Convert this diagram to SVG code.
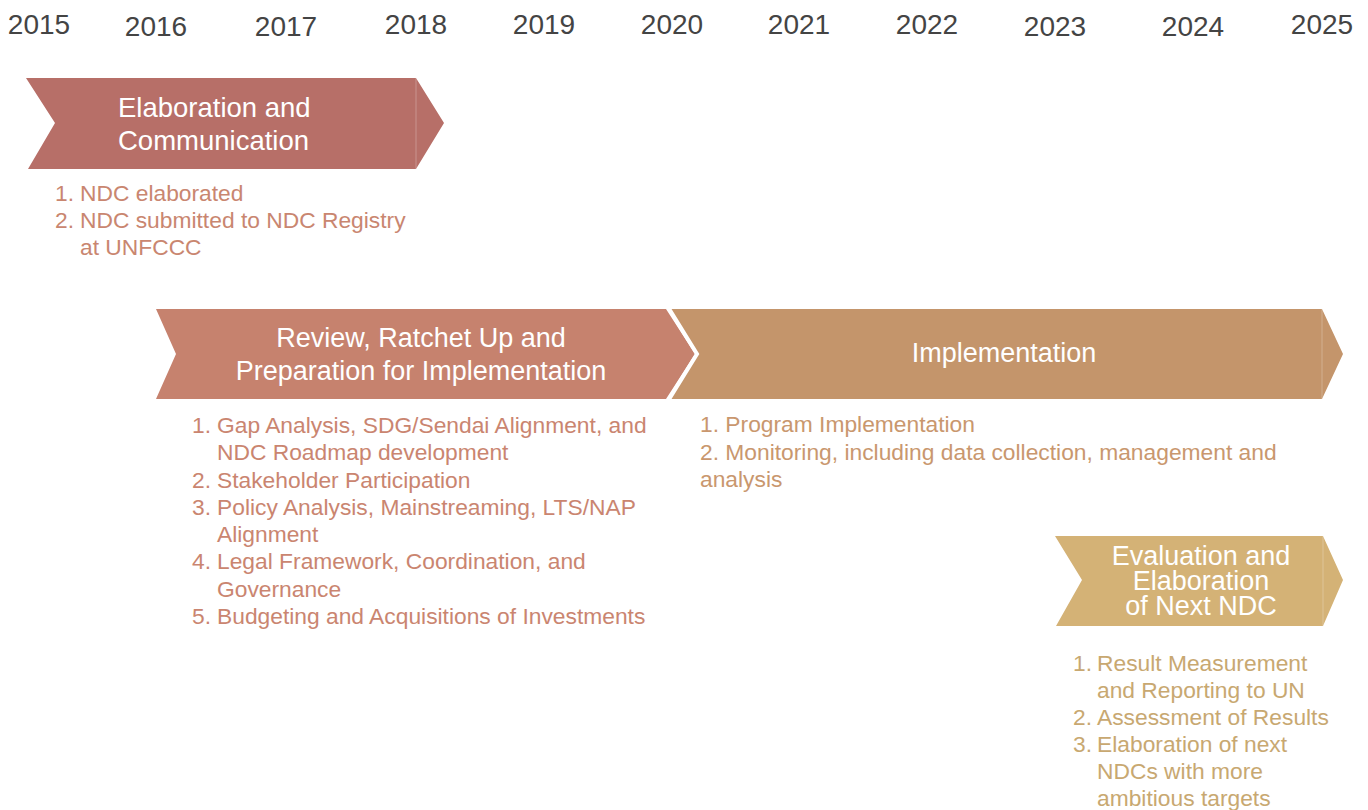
<svg xmlns="http://www.w3.org/2000/svg" width="1368" height="810" viewBox="0 0 1368 810">
<style>
text{font-family:"Liberation Sans",Arial,sans-serif}
.yr{font-size:28px;fill:#444444;text-anchor:middle}
.ttl{font-size:27px;fill:#ffffff}
.mid{text-anchor:middle}
.li{font-size:22.8px}
.c1{fill:#C98670}
.c2{fill:#CA8570}
.c3{fill:#C9976E}
.c4{fill:#C8A871}
.seam{stroke:#ffffff;stroke-opacity:0.25;stroke-width:1}
</style>
<rect width="1368" height="810" fill="#ffffff"/>
<g id="years">
<text class="yr" x="39" y="34">2015</text>
<text class="yr" x="156" y="36">2016</text>
<text class="yr" x="286" y="36">2017</text>
<text class="yr" x="416" y="34">2018</text>
<text class="yr" x="544" y="34">2019</text>
<text class="yr" x="672" y="34">2020</text>
<text class="yr" x="799" y="34">2021</text>
<text class="yr" x="927" y="34">2022</text>
<text class="yr" x="1055" y="36">2023</text>
<text class="yr" x="1193" y="36">2024</text>
<text class="yr" x="1322" y="34">2025</text>
</g>
<g id="elaboration">
<polygon points="26,78 416,78 444,123 416,169 28,169 55,123" fill="#B76F68"/>
<line class="seam" x1="416" y1="78" x2="416" y2="169"/>
<text class="ttl" x="118" y="117" style="font-size:27.5px">Elaboration and</text>
<text class="ttl" x="118" y="150" style="font-size:27.5px">Communication</text>
<text class="li c1" x="55" y="201">1.</text><text class="li c1" x="80" y="201">NDC elaborated</text>
<text class="li c1" x="55" y="228">2.</text><text class="li c1" x="80" y="228">NDC submitted to NDC Registry</text>
<text class="li c1" x="80" y="255">at UNFCCC</text>
</g>
<g id="review">
<polygon points="156,309 666,309 695,354 666,399 156,399 176,354" fill="#C6826E"/>
<text class="ttl mid" x="421" y="347">Review, Ratchet Up and</text>
<text class="ttl mid" x="421" y="380">Preparation for Implementation</text>
<text class="li c2" x="192" y="433">1.</text><text class="li c2" x="217" y="433">Gap Analysis, SDG/Sendai Alignment, and</text>
<text class="li c2" x="217" y="460">NDC Roadmap development</text>
<text class="li c2" x="192" y="488">2.</text><text class="li c2" x="217" y="488">Stakeholder Participation</text>
<text class="li c2" x="192" y="515">3.</text><text class="li c2" x="217" y="515">Policy Analysis, Mainstreaming, LTS/NAP</text>
<text class="li c2" x="217" y="542">Alignment</text>
<text class="li c2" x="192" y="569">4.</text><text class="li c2" x="217" y="569">Legal Framework, Coordination, and</text>
<text class="li c2" x="217" y="597">Governance</text>
<text class="li c2" x="192" y="624">5.</text><text class="li c2" x="217" y="624">Budgeting and Acquisitions of Investments</text>
</g>
<g id="implementation">
<polygon points="668,309 1322,309 1343,354 1322,399 668,399 697,354" fill="#C4956B"/>
<polyline points="668,307 697,354 668,401" fill="none" stroke="#ffffff" stroke-width="4"/>
<line class="seam" x1="1322" y1="309" x2="1322" y2="399"/>
<text class="ttl mid" x="1004" y="362">Implementation</text>
<text class="li c3" x="700" y="432">1. Program Implementation</text>
<text class="li c3" x="700" y="460">2. Monitoring, including data collection, management and</text>
<text class="li c3" x="700" y="487">analysis</text>
</g>
<g id="evaluation">
<polygon points="1055,536 1323,536 1343,580 1323,626 1056,626 1082,580" fill="#D4B276"/>
<line class="seam" x1="1323" y1="536" x2="1323" y2="626"/>
<text class="ttl mid" x="1201" y="565">Evaluation and<tspan x="1201" dy="25">Elaboration</tspan><tspan x="1201" dy="25">of Next NDC</tspan></text>
<text class="li c4" x="1073" y="671">1.</text><text class="li c4" x="1097" y="671">Result Measurement</text>
<text class="li c4" x="1097" y="698">and Reporting to UN</text>
<text class="li c4" x="1073" y="725">2.</text><text class="li c4" x="1097" y="725">Assessment of Results</text>
<text class="li c4" x="1073" y="752">3.</text><text class="li c4" x="1097" y="752">Elaboration of next</text>
<text class="li c4" x="1097" y="779">NDCs with more</text>
<text class="li c4" x="1097" y="806">ambitious targets</text>
</g>
<g id="connectors"></g>
</svg>
